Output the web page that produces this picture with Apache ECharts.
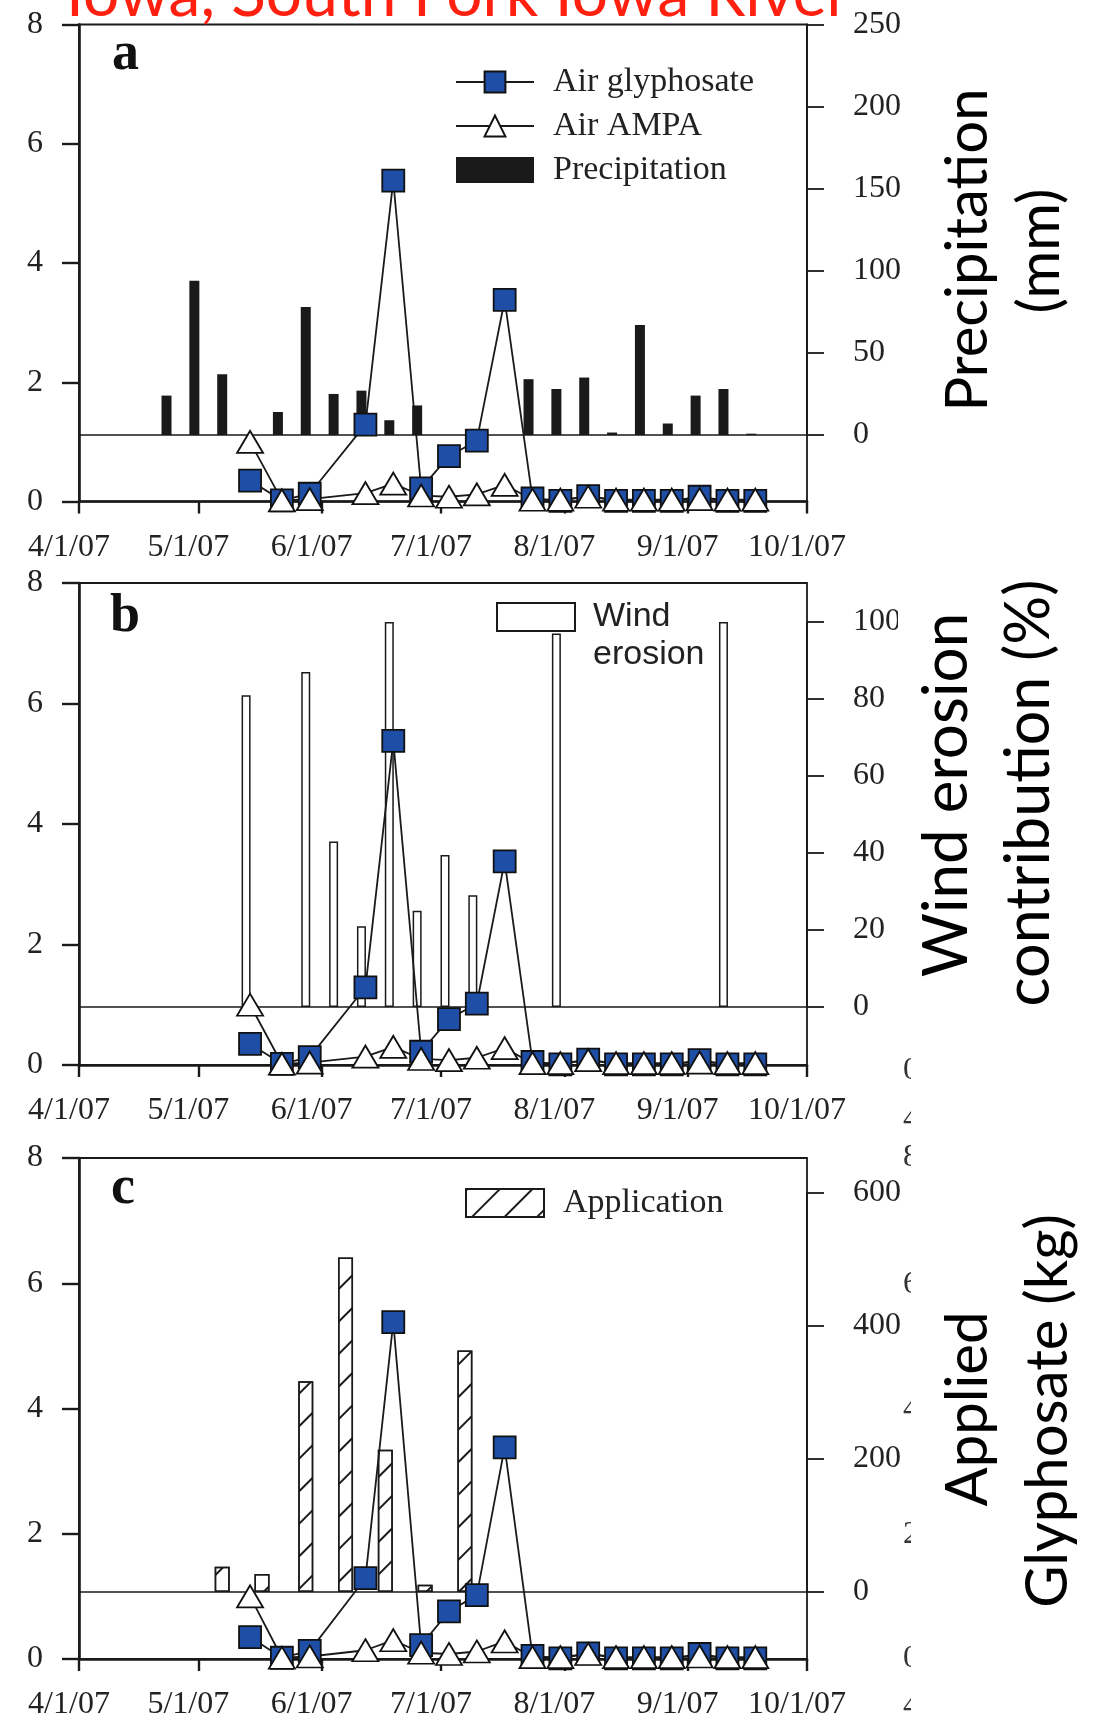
<!DOCTYPE html>
<html><head><meta charset="utf-8">
<script src="https://cdn.jsdelivr.net/npm/echarts@6/dist/echarts.min.js"></script>
<style>html,body{margin:0;padding:0;background:#fff}#c{width:1097px;height:1721px}</style>
</head><body><div id="c"></div><script>
// ---------- data ----------
const tickDates = ['2007-04-01','2007-05-01','2007-06-01','2007-07-01','2007-08-01','2007-09-01','2007-10-01'];
const tickLabels = ['4/1/07','5/1/07','6/1/07','7/1/07','8/1/07','9/1/07','10/1/07'];
const sampleDates = ['2007-05-14','2007-05-22','2007-05-29','2007-06-12','2007-06-19','2007-06-26','2007-07-03','2007-07-10','2007-07-17','2007-07-24','2007-07-31','2007-08-07','2007-08-14','2007-08-21','2007-08-28','2007-09-04','2007-09-11','2007-09-18'];
const airGlyphosate = [0.35,0.02,0.13,1.29,5.38,0.22,0.76,1.02,3.38,0.05,0.01,0.09,0.01,0.01,0.01,0.08,0.01,0.01];
const airAMPA = [1.0,0.02,0.04,0.14,0.3,0.1,0.08,0.12,0.28,0.03,0.03,0.08,0.03,0.03,0.03,0.04,0.03,0.03];
const precipDates = ['2007-04-23','2007-04-30','2007-05-07','2007-05-21','2007-05-28','2007-06-04','2007-06-11','2007-06-18','2007-06-25','2007-07-23','2007-07-30','2007-08-06','2007-08-13','2007-08-20','2007-08-27','2007-09-03','2007-09-10','2007-09-17'];
const precipitation = [24,94,37,14,78,25,27,9,18,34,28,35,1.5,67,7,24,28,0.8];
const windDates = ['2007-05-13','2007-05-28','2007-06-04','2007-06-11','2007-06-18','2007-06-25','2007-07-02','2007-07-09','2007-07-30','2007-09-10'];
const windErosion = [81,87,43,21,100,25,39.5,29,97,100];
const applicationDates = ['2007-05-07','2007-05-17','2007-05-28','2007-06-07','2007-06-17','2007-06-27','2007-07-07'];
const application = [38,27,317,503,214,11,363];
// fragments of a partly hidden axis at the right edge of the image
const strayGlyphs = ['0','4','8','6','4','2','0','4'];

// ---------- helpers ----------
const ORIGIN = Date.UTC(2007,3,1);
function dayOf(s){const p=s.split('-').map(Number);return (Date.UTC(p[0],p[1]-1,p[2])-ORIGIN)/86400000;}
const tickDays = tickDates.map(dayOf);
const pairs = (ds, vs) => ds.map((d,i)=>[dayOf(d), vs[i]]);

const INK = '#1a1a1a';
const SERIF = 'Liberation Serif';
const LEFT = 79, WIDTH = 728;
const panels = [
  {top:24.5, bottom:501.5, zero:435, rtop:24.5, rmax:250, rint:50},
  {top:583, bottom:1065, zero:1007, rtop:622, rmax:100, rint:20},
  {top:1158, bottom:1659, zero:1592, rtop:1193, rmax:600, rint:200}
];

const grid=[], xAxis=[], yAxis=[];
panels.forEach(p=>{
  grid.push({left:LEFT, width:WIDTH, top:p.top, height:p.bottom-p.top, show:true, borderColor:INK, borderWidth:1.8, containLabel:false});
  grid.push({left:LEFT, width:WIDTH, top:p.rtop, height:p.zero-p.rtop, containLabel:false});
  const gi = grid.length-2;
  xAxis.push({gridIndex:gi, type:'value', min:0, max:183, position:'bottom',
    axisLine:{show:true,onZero:false,lineStyle:{color:INK,width:2.6}},
    axisTick:{show:true,inside:false,length:12,lineStyle:{color:INK,width:2.4},customValues:tickDays},
    axisLabel:{show:true,customValues:tickDays,margin:30,fontFamily:SERIF,fontSize:32,color:'#222',padding:[0,20,0,0],
      formatter:v=>tickLabels[tickDays.indexOf(v)]},
    splitLine:{show:false}});
  xAxis.push({gridIndex:gi+1, type:'value', min:0, max:183, position:'bottom',
    axisLine:{show:true,onZero:false,lineStyle:{color:INK,width:1.6}},
    axisTick:{show:false}, axisLabel:{show:false}, splitLine:{show:false}});
  yAxis.push({gridIndex:gi, type:'value', min:0, max:8, interval:2, position:'left',
    axisLine:{show:true,onZero:false,lineStyle:{color:INK,width:2.6}},
    axisTick:{show:true,inside:false,length:17,lineStyle:{color:INK,width:2.4}},
    axisLabel:{margin:36,fontFamily:SERIF,fontSize:32,color:'#222'},
    splitLine:{show:false}});
  yAxis.push({gridIndex:gi+1, type:'value', min:0, max:p.rmax, interval:p.rint, position:'right',
    axisLine:{show:true,onZero:false,lineStyle:{color:INK,width:1.8}},
    axisTick:{show:true,inside:false,length:17,lineStyle:{color:INK,width:1.8}},
    axisLabel:{margin:46,fontFamily:SERIF,fontSize:32,color:'#222'},
    splitLine:{show:false}});
});

const barDefs = [
  {name:'Precipitation', data:pairs(precipDates,precipitation), barWidth:10, itemStyle:{color:INK}},
  {name:'Wind erosion', data:pairs(windDates,windErosion), barWidth:9, itemStyle:{color:'#fff',borderColor:INK,borderWidth:1.5}},
  {name:'Application', data:pairs(applicationDates,application), barWidth:15, itemStyle:{color:'#fff',borderColor:INK,borderWidth:1.5,
     decal:{symbol:'rect',symbolSize:1,color:INK,dashArrayX:[1,0],dashArrayY:[2,21],rotation:-Math.PI/4}}}
];
const series=[];
panels.forEach((p,i)=>{
  const b = barDefs[i];
  series.push({type:'bar', name:b.name, xAxisIndex:2*i+1, yAxisIndex:2*i+1, data:b.data, barWidth:b.barWidth, itemStyle:b.itemStyle, silent:true, animation:false});
  series.push({type:'line', name:'Air glyphosate', xAxisIndex:2*i, yAxisIndex:2*i, data:pairs(sampleDates,airGlyphosate),
    symbol:'rect', symbolSize:22, showSymbol:true, showAllSymbol:true,
    itemStyle:{color:'#1f4ea6',borderColor:'#111',borderWidth:1.8}, lineStyle:{color:INK,width:1.8}, animation:false});
  series.push({type:'line', name:'Air AMPA', xAxisIndex:2*i, yAxisIndex:2*i, data:pairs(sampleDates,airAMPA),
    symbol:'triangle', symbolSize:[26,22], showSymbol:true, showAllSymbol:true,
    itemStyle:{color:'#fff',borderColor:'#111',borderWidth:1.8}, lineStyle:{color:INK,width:1.8}, animation:false});
});

const legend = [
  {data:['Air glyphosate','Air AMPA',{name:'Precipitation',icon:'rect'}], orient:'vertical', left:455, top:64, padding:0,
   itemWidth:78, itemHeight:26, itemGap:8, selectedMode:false,
   textStyle:{fontFamily:SERIF,fontSize:34,lineHeight:36,color:'#222',padding:[0,0,0,14]}},
  {data:[{name:'Wind erosion',icon:'rect'}], left:496, top:560, padding:0, itemWidth:78, itemHeight:28, selectedMode:false,
   formatter:()=> ' \nWind\nerosion', textStyle:{fontFamily:'Liberation Sans',fontSize:34,lineHeight:38,color:'#222',padding:[0,0,0,13]}},
  {data:[{name:'Application',icon:'rect'}], left:465, top:1185, padding:0, itemWidth:78, itemHeight:28, selectedMode:false,
   textStyle:{fontFamily:SERIF,fontSize:34,lineHeight:36,color:'#222',padding:[0,0,0,14]}}
];

const TITLE_FONT = 'Lato';
function vtext(txt,x,y,size){return {type:'text', x:x, y:y, rotation:Math.PI/2, silent:true, z:10,
  style:{text:txt, align:'center', verticalAlign:'middle', font:size+'px "'+TITLE_FONT+'"', fill:'#000'}};}
function ptext(txt,x,y){return {type:'text', x:x, y:y, silent:true,
  style:{text:txt, align:'left', verticalAlign:'middle', font:'bold 54px "'+SERIF+'"', fill:'#111'}};}
const strayY = [1071,1120,1158,1285,1410,1535,1659,1707];
const graphic = [
  {type:'text', x:66, y:-5, silent:true, style:{text:'Iowa, South Fork Iowa River', align:'left', verticalAlign:'middle', font:'64px "Lato"', fill:'#ff2010'}}
];
strayGlyphs.forEach((g,i)=>graphic.push({type:'text', x:903, y:strayY[i], silent:true, z:5,
  style:{text:g, align:'left', verticalAlign:'middle', font:'32px "'+SERIF+'"', fill:'#333'}}));
graphic.push({type:'rect', silent:true, z:6, shape:{x:911, y:1040, width:8, height:700}, style:{fill:'#fff'}});
graphic.push({type:'rect', silent:true, z:6, shape:{x:898, y:605, width:10, height:34}, style:{fill:'#fff'}});
graphic.push(ptext('a',112,55), ptext('b',110,617), ptext('c',111,1189),
  vtext('Precipitation',968,250,58), vtext('(mm)',1040,251,58),
  vtext('Wind erosion',947,795,62), vtext('contribution (%)',1029,793,61),
  vtext('Applied',968,1409,58), vtext('Glyphosate (kg)',1048,1411,58));

const chart = echarts.init(document.getElementById('c'), null, {renderer:'canvas'});
chart.setOption({animation:false, backgroundColor:'#fff', grid, xAxis, yAxis, series, legend, graphic});
</script></body></html>
